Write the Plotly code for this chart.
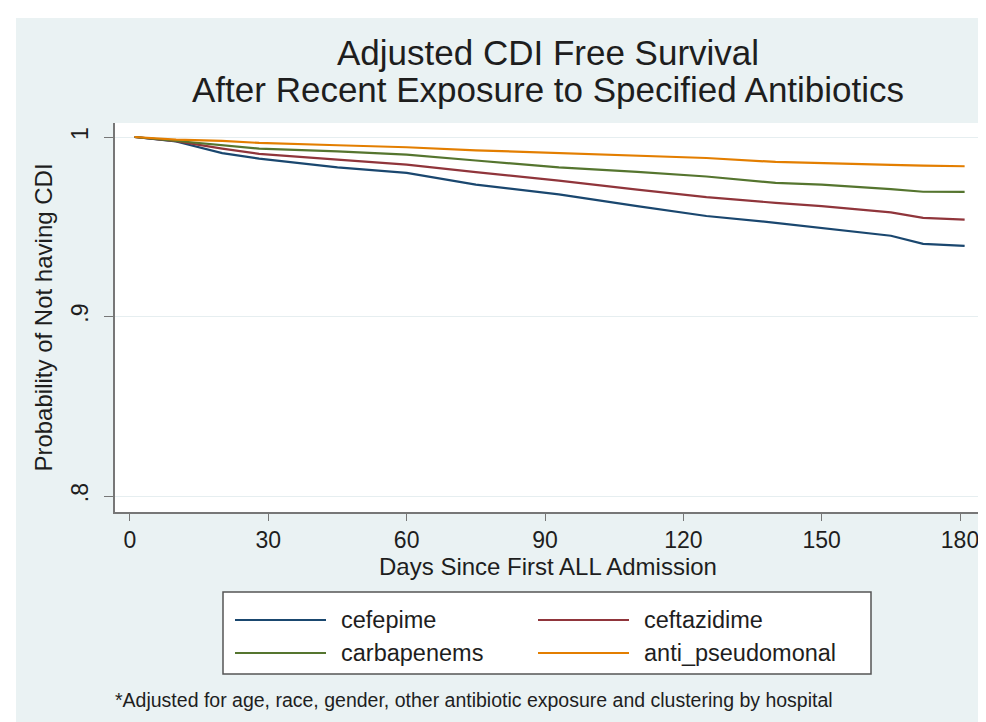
import plotly.graph_objects as go

# ---- data ----
days = [1, 10, 20, 28, 45, 60, 75, 93, 110, 125, 140, 150, 165, 172, 181]
cefepime = [1.0, .9975, .991, .988, .9831, .980, .9735, .968, .9615, .956, .9522, .9494, .945, .9405, .9393]
ceftazidime = [1.0, .9977, .9935, .9906, .9874, .9846, .9804, .9757, .9707, .9665, .9633, .9615, .958, .955, .954]
carbapenems = [1.0, .9978, .9955, .9935, .992, .9902, .9869, .9831, .9806, .978, .9744, .9735, .971, .9695, .9694]
anti_pseudomonal = [1.0, .9985, .9978, .9967, .9954, .9943, .9926, .9911, .9898, .9883, .9861, .9856, .9845, .984, .9837]

series_names = ["cefepime", "ceftazidime", "carbapenems", "anti_pseudomonal"]
series_values = [cefepime, ceftazidime, carbapenems, anti_pseudomonal]
colors = ["#1a476f", "#90353b", "#55752f", "#e37e00"]

x_ticks = [0, 30, 60, 90, 120, 150, 180]
y_ticks = [0.8, 0.9, 1.0]
y_tick_labels = [".8", ".9", "1"]

title_lines = ["Adjusted CDI Free Survival", "After Recent Exposure to Specified Antibiotics"]
x_title = "Days Since First ALL Admission"
y_title = "Probability of Not having CDI"
footnote = "*Adjusted for age, race, gender, other antibiotic exposure and clustering by hospital"

# ---- layout geometry (pixels) ----
W, H = 986, 722
L, R, T, B = 107, 973, 115, 504
FONT = "Liberation Sans, Arial, sans-serif"
BG = "#EAF2F3"
TXT = "#1e1e1e"


def px(x):
    return (x - L) / (R - L)


def py(y):
    return (B - y) / (B - T)


fig = go.Figure()
for name, vals, c in zip(series_names, series_values, colors):
    fig.add_trace(go.Scatter(x=days, y=vals, mode="lines", name=name,
                             line=dict(color=c, width=2.2), showlegend=False))

shapes = []
annotations = []

# white outer border strips
shapes.append(dict(type="rect", xref="paper", yref="paper", x0=px(0), x1=px(8), y0=py(H), y1=py(0),
                   fillcolor="white", line=dict(width=0), layer="below"))
shapes.append(dict(type="rect", xref="paper", yref="paper", x0=px(0), x1=px(W), y0=py(10), y1=py(0),
                   fillcolor="white", line=dict(width=0), layer="below"))

# titles
for txt, yy in zip(title_lines, [44, 81]):
    annotations.append(dict(text=txt, xref="paper", yref="paper", x=px(540), y=py(yy),
                            xanchor="center", yanchor="middle", showarrow=False,
                            font=dict(family=FONT, size=35, color=TXT)))

# legend box
shapes.append(dict(type="rect", xref="paper", yref="paper", x0=px(215), x1=px(863), y0=py(666), y1=py(584),
                   fillcolor="white", line=dict(color="#555555", width=1.5)))
key_pos = [(227, 612), (530, 612), (227, 645), (530, 645)]
for (kx, ky), name, c in zip(key_pos, series_names, colors):
    shapes.append(dict(type="line", xref="paper", yref="paper", x0=px(kx), x1=px(kx + 91),
                       y0=py(ky), y1=py(ky), line=dict(color=c, width=2)))
    annotations.append(dict(text=name, xref="paper", yref="paper", x=px(kx + 104), y=py(ky),
                            xanchor="left", yanchor="middle", showarrow=False,
                            font=dict(family=FONT, size=23.5, color=TXT)))

# footnote
annotations.append(dict(text=footnote, xref="paper", yref="paper", x=px(105), y=py(692),
                        xanchor="left", yanchor="middle", showarrow=False,
                        font=dict(family=FONT, size=19.5, color=TXT)))

fig.update_layout(
    width=W, height=H,
    margin=dict(l=L, r=W - R, t=T, b=H - B, pad=0),
    paper_bgcolor=BG, plot_bgcolor="white",
    font=dict(family=FONT, size=23, color=TXT),
    shapes=shapes, annotations=annotations,
    xaxis=dict(range=[-3.25, 184.55], tickvals=x_ticks, ticks="outside", ticklen=7,
               tickcolor="#777777", showline=True, linecolor="#777777", linewidth=1.5,
               showgrid=False, zeroline=False,
               tickfont=dict(family=FONT, size=23, color=TXT),
               title=dict(text=x_title, standoff=5, font=dict(family=FONT, size=24, color=TXT))),
    yaxis=dict(range=[0.7911, 1.0078], tickvals=y_ticks, ticktext=y_tick_labels, tickangle=-90,
               ticks="outside", ticklen=9, tickcolor="#777777", showline=True, linecolor="#777777",
               linewidth=1.5, showgrid=True, gridcolor="#e6eef0", gridwidth=1, zeroline=False,
               ticklabelstandoff=7,
               tickfont=dict(family=FONT, size=23, color=TXT),
               title=dict(text=y_title, standoff=8, font=dict(family=FONT, size=24, color=TXT))),
)

fig.write_html("out.html")
